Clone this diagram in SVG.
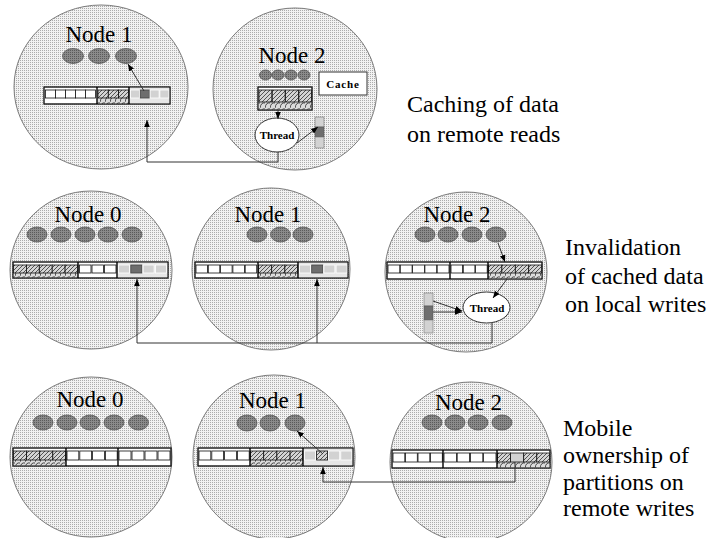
<svg xmlns="http://www.w3.org/2000/svg" width="709" height="538" viewBox="0 0 709 538">
<defs>
<pattern id="dots" width="2" height="2" patternUnits="userSpaceOnUse"><rect width="2" height="2" fill="#f2f2f2"/><rect width="1" height="1" fill="#acacac"/></pattern>
<pattern id="dk" width="2" height="2" patternUnits="userSpaceOnUse"><rect width="2" height="2" fill="#8a8a8a"/><rect width="1" height="1" fill="#5a5a5a"/></pattern>
<pattern id="hatch" width="4" height="4" patternUnits="userSpaceOnUse"><rect width="4" height="4" fill="#d4d4d4"/><path d="M-1,1 L1,-1 M0,4 L4,0 M3,5 L5,3" stroke="#333" stroke-width="0.8"/></pattern>
<pattern id="scal" width="5" height="6" patternUnits="userSpaceOnUse"><rect width="5" height="6" fill="#dcdcdc"/><path d="M0,6 Q1,0 5,1" fill="none" stroke="#222" stroke-width="0.8"/></pattern>
<marker id="ah" viewBox="0 0 10 10" refX="10" refY="5" markerWidth="7" markerHeight="7" orient="auto" markerUnits="userSpaceOnUse"><path d="M0,1 L10,5 L0,9 z" fill="#000"/></marker>
</defs>
<style>
.circ{fill:url(#dots);stroke:#7a7a7a;stroke-width:1}
.ov{fill:url(#dk);stroke:#555;stroke-width:0.8}
text{font-family:'Liberation Serif','Tinos','DejaVu Serif',serif}
.lbl{font-size:23px;fill:#000;text-anchor:middle}
.cap{font-size:24px;fill:#000}
.sm{font-size:11px;font-weight:bold;fill:#000;text-anchor:middle}
.bar{fill:#fff;stroke:#222;stroke-width:1}
.wc{fill:#fff;stroke:#111;stroke-width:0.8}
.lb{fill:#e6e6e6;stroke:none}
.lc{fill:#d2d2d2;stroke:#fff;stroke-width:0.8}
.dc{fill:#6e6e6e;stroke:#444;stroke-width:0.8}
.hc{fill:url(#hatch);stroke:#111;stroke-width:0.8}
.sc{fill:url(#scal);stroke:none}
.sep{stroke:#000;stroke-width:1.4}
.box{fill:#fff;stroke:#333;stroke-width:1}
.con{fill:none;stroke:#333;stroke-width:1}
</style>

<!-- TOP ROW -->
<g id="top-node1">
<ellipse class="circ" cx="101" cy="87" rx="87" ry="82"/>
<text class="lbl" x="99" y="42" font-family="Liberation Serif, serif">Node 1</text>
<ellipse class="ov" cx="73" cy="56" rx="10.5" ry="7.5"/>
<ellipse class="ov" cx="99" cy="56" rx="10.5" ry="7.5"/>
<ellipse class="ov" cx="126" cy="56" rx="10.5" ry="7.5"/>
<rect class="bar" x="44" y="87" width="126" height="17"/>
<rect class="wc" x="45.5" y="90" width="10" height="8"/><rect class="wc" x="55.5" y="90" width="10" height="8"/><rect class="wc" x="65.5" y="90" width="10" height="8"/><rect class="wc" x="75.5" y="90" width="10" height="8"/><rect class="wc" x="85.5" y="90" width="10" height="8"/>
<rect class="sc" x="97" y="98" width="32" height="6"/>
<rect class="hc" x="98" y="90" width="10.3" height="8"/><rect class="hc" x="108.3" y="90" width="10.3" height="8"/><rect class="hc" x="118.6" y="90" width="10.3" height="8"/>
<rect class="lb" x="129.5" y="87.5" width="40" height="16"/>
<rect class="lc" x="130.5" y="90" width="9" height="8"/><rect class="dc" x="140.3" y="90" width="9" height="8"/><rect class="lc" x="150.1" y="90" width="9" height="8"/><rect class="lc" x="159.9" y="90" width="9" height="8"/>
<rect x="44" y="87" width="126" height="17" fill="none" stroke="#222"/>
<line class="sep" x1="97" y1="87" x2="97" y2="104"/><line class="sep" x1="129" y1="87" x2="129" y2="104"/>
</g>

<g id="top-node2">
<ellipse class="circ" cx="295" cy="89" rx="82" ry="81"/>
<text class="lbl" x="292" y="63">Node 2</text>
<ellipse class="ov" cx="265.5" cy="75" rx="6" ry="5"/>
<ellipse class="ov" cx="278" cy="75" rx="6" ry="5"/>
<ellipse class="ov" cx="291" cy="75" rx="6" ry="5"/>
<ellipse class="ov" cx="304" cy="75" rx="6" ry="5"/>
<g id="top-cache"><rect class="box" x="319" y="72" width="48" height="23"/><text class="sm" x="343" y="87.5" letter-spacing="0.8">Cache</text></g>
<rect class="bar" x="258" y="87" width="54" height="23"/>
<rect class="sc" x="258.5" y="102" width="53" height="7.5"/>
<rect class="hc" x="259" y="90" width="12.8" height="12"/><rect class="hc" x="272.3" y="90" width="12.8" height="12"/><rect class="hc" x="285.6" y="90" width="12.8" height="12"/><rect class="hc" x="298.9" y="90" width="12.6" height="12"/>
<rect x="258" y="87" width="54" height="23" fill="none" stroke="#222"/>
<g id="top-thread"><ellipse class="box" cx="277" cy="135" rx="22" ry="17"/><text class="sm" x="277" y="139">Thread</text></g>
<rect x="315" y="117" width="9" height="10" fill="#d2d2d2" stroke="#777" stroke-width="0.6"/>
<rect x="315" y="127" width="9" height="10" fill="#6e6e6e" stroke="#555" stroke-width="0.6"/>
<rect x="315" y="137" width="9" height="11" fill="#d2d2d2" stroke="#777" stroke-width="0.6"/>
</g>

<!-- MIDDLE ROW -->
<g id="mid-node0">
<ellipse class="circ" cx="91" cy="270" rx="81" ry="79"/>
<text class="lbl" x="88" y="222">Node 0</text>
<ellipse class="ov" cx="37" cy="234.5" rx="10" ry="7.5"/>
<ellipse class="ov" cx="61" cy="234.5" rx="10" ry="7.5"/>
<ellipse class="ov" cx="85" cy="234.5" rx="10" ry="7.5"/>
<ellipse class="ov" cx="108" cy="234.5" rx="10" ry="7.5"/>
<ellipse class="ov" cx="132" cy="234.5" rx="10" ry="7.5"/>
<rect class="bar" x="13" y="262" width="155" height="16"/>
<rect class="sc" x="13.5" y="273" width="64.5" height="4.5"/>
<rect class="hc" x="13.5" y="265" width="12.9" height="8"/><rect class="hc" x="26.4" y="265" width="12.9" height="8"/><rect class="hc" x="39.3" y="265" width="12.9" height="8"/><rect class="hc" x="52.2" y="265" width="12.9" height="8"/><rect class="hc" x="65.1" y="265" width="12.9" height="8"/>
<rect class="wc" x="79.5" y="265" width="11.5" height="8"/><rect class="wc" x="92" y="265" width="11.5" height="8"/><rect class="wc" x="104.5" y="265" width="11.5" height="8"/>
<rect class="lb" x="117.5" y="262.5" width="50" height="15"/>
<rect class="lc" x="118.5" y="265" width="11" height="8"/><rect class="dc" x="130.8" y="265" width="11" height="8"/><rect class="lc" x="143.1" y="265" width="11" height="8"/><rect class="lc" x="155.4" y="265" width="11" height="8"/>
<rect x="13" y="262" width="155" height="16" fill="none" stroke="#222"/>
<line class="sep" x1="78" y1="262" x2="78" y2="278"/><line class="sep" x1="117" y1="262" x2="117" y2="278"/>
</g>

<g id="mid-node1">
<ellipse class="circ" cx="271" cy="269" rx="79" ry="81"/>
<text class="lbl" x="268" y="222">Node 1</text>
<ellipse class="ov" cx="257" cy="234.5" rx="10" ry="7.5"/>
<ellipse class="ov" cx="280.5" cy="234.5" rx="10" ry="7.5"/>
<ellipse class="ov" cx="303" cy="234.5" rx="10" ry="7.5"/>
<rect class="bar" x="195" y="262" width="153" height="16"/>
<rect class="wc" x="196" y="265" width="11.5" height="8"/><rect class="wc" x="208.3" y="265" width="11.5" height="8"/><rect class="wc" x="220.6" y="265" width="11.5" height="8"/><rect class="wc" x="232.9" y="265" width="11.5" height="8"/><rect class="wc" x="245.2" y="265" width="11.5" height="8"/>
<rect class="sc" x="258" y="273" width="40" height="4.5"/>
<rect class="hc" x="258.5" y="265" width="13.2" height="8"/><rect class="hc" x="271.7" y="265" width="13.2" height="8"/><rect class="hc" x="284.9" y="265" width="13" height="8"/>
<rect class="lb" x="298.5" y="262.5" width="49" height="15"/>
<rect class="lc" x="299.5" y="265" width="11" height="8"/><rect class="dc" x="311.7" y="265" width="11" height="8"/><rect class="lc" x="323.9" y="265" width="11" height="8"/><rect class="lc" x="336.1" y="265" width="11" height="8"/>
<rect x="195" y="262" width="153" height="16" fill="none" stroke="#222"/>
<line class="sep" x1="258" y1="262" x2="258" y2="278"/><line class="sep" x1="298" y1="262" x2="298" y2="278"/>
</g>

<g id="mid-node2">
<ellipse class="circ" cx="466" cy="272" rx="81" ry="80"/>
<text class="lbl" x="457" y="222">Node 2</text>
<ellipse class="ov" cx="425" cy="234.5" rx="10" ry="7.5"/>
<ellipse class="ov" cx="448" cy="234.5" rx="10" ry="7.5"/>
<ellipse class="ov" cx="472" cy="234.5" rx="10" ry="7.5"/>
<ellipse class="ov" cx="496" cy="234.5" rx="10" ry="7.5"/>
<rect class="bar" x="387" y="262" width="155" height="17"/>
<rect class="wc" x="388" y="265" width="11.8" height="8"/><rect class="wc" x="400.3" y="265" width="11.8" height="8"/><rect class="wc" x="412.6" y="265" width="11.8" height="8"/><rect class="wc" x="424.9" y="265" width="11.8" height="8"/><rect class="wc" x="437.2" y="265" width="11.8" height="8"/>
<rect class="wc" x="451" y="265" width="11.6" height="8"/><rect class="wc" x="463.3" y="265" width="11.6" height="8"/><rect class="wc" x="475.6" y="265" width="11.6" height="8"/>
<rect class="sc" x="488" y="273" width="54" height="5.5"/>
<rect class="hc" x="488.5" y="265" width="13.4" height="8"/><rect class="hc" x="501.9" y="265" width="13.4" height="8"/><rect class="hc" x="515.3" y="265" width="13.4" height="8"/><rect class="hc" x="528.7" y="265" width="13" height="8"/>
<rect x="387" y="262" width="155" height="17" fill="none" stroke="#222"/>
<line class="sep" x1="450" y1="262" x2="450" y2="279"/><line class="sep" x1="488" y1="262" x2="488" y2="279"/>
<g id="mid-thread"><ellipse class="box" cx="486.5" cy="307.5" rx="23.5" ry="15.5"/><text class="sm" x="487" y="311.5">Thread</text></g>
<rect x="424" y="293" width="9" height="13" fill="#d2d2d2" stroke="#777" stroke-width="0.6"/>
<rect x="424" y="306" width="9" height="14" fill="#6e6e6e" stroke="#555" stroke-width="0.6"/>
<rect x="424" y="320" width="9" height="13" fill="#d2d2d2" stroke="#777" stroke-width="0.6"/>
</g>

<!-- BOTTOM ROW -->
<g id="bot-node0">
<ellipse class="circ" cx="91" cy="457" rx="81" ry="80"/>
<text class="lbl" x="90" y="407">Node 0</text>
<ellipse class="ov" cx="43" cy="422.5" rx="10" ry="7.5"/>
<ellipse class="ov" cx="67" cy="422.5" rx="10" ry="7.5"/>
<ellipse class="ov" cx="90" cy="422.5" rx="10" ry="7.5"/>
<ellipse class="ov" cx="114" cy="422.5" rx="10" ry="7.5"/>
<ellipse class="ov" cx="138.5" cy="422.5" rx="10" ry="7.5"/>
<rect class="bar" x="13" y="448" width="158" height="18"/>
<rect class="sc" x="13.5" y="460" width="52.5" height="5.5"/>
<rect class="hc" x="13.5" y="451" width="13.1" height="9"/><rect class="hc" x="26.6" y="451" width="13.1" height="9"/><rect class="hc" x="39.7" y="451" width="13.1" height="9"/><rect class="hc" x="52.8" y="451" width="13" height="9"/>
<rect class="wc" x="67" y="451" width="11.8" height="9"/><rect class="wc" x="79.8" y="451" width="11.8" height="9"/><rect class="wc" x="92.6" y="451" width="11.8" height="9"/><rect class="wc" x="105.4" y="451" width="11.8" height="9"/>
<rect class="wc" x="119" y="451" width="12" height="9"/><rect class="wc" x="132" y="451" width="12" height="9"/><rect class="wc" x="145" y="451" width="12" height="9"/><rect class="wc" x="158" y="451" width="12" height="9"/>
<rect x="13" y="448" width="158" height="18" fill="none" stroke="#222"/>
<line class="sep" x1="66" y1="448" x2="66" y2="466"/><line class="sep" x1="118" y1="448" x2="118" y2="466"/>
</g>

<g id="bot-node1">
<ellipse class="circ" cx="274" cy="457" rx="81" ry="82"/>
<text class="lbl" x="272.5" y="408">Node 1</text>
<ellipse class="ov" cx="247" cy="423" rx="10" ry="8"/>
<ellipse class="ov" cx="270" cy="423" rx="10" ry="8"/>
<ellipse class="ov" cx="295" cy="423" rx="10" ry="8"/>
<rect class="bar" x="198" y="448" width="155" height="18"/>
<rect class="wc" x="199" y="451" width="11.8" height="9"/><rect class="wc" x="211.8" y="451" width="11.8" height="9"/><rect class="wc" x="224.6" y="451" width="11.8" height="9"/><rect class="wc" x="237.4" y="451" width="11.8" height="9"/>
<rect class="sc" x="250" y="460" width="53" height="5.5"/>
<rect class="hc" x="250.5" y="451" width="13.2" height="9"/><rect class="hc" x="263.7" y="451" width="13.2" height="9"/><rect class="hc" x="276.9" y="451" width="13.2" height="9"/><rect class="hc" x="290.1" y="451" width="12.7" height="9"/>
<rect class="lb" x="303.5" y="448.5" width="49" height="17"/>
<rect class="lc" x="304.5" y="451" width="11" height="9"/><rect class="hc" x="316.6" y="451" width="11" height="9"/><rect class="lc" x="328.7" y="451" width="11" height="9"/><rect class="lc" x="340.8" y="451" width="11" height="9"/>
<rect x="198" y="448" width="155" height="18" fill="none" stroke="#222"/>
<line class="sep" x1="250" y1="448" x2="250" y2="466"/><line class="sep" x1="303" y1="448" x2="303" y2="466"/>
</g>

<g id="bot-node2">
<ellipse class="circ" cx="471" cy="462" rx="81" ry="80"/>
<text class="lbl" x="468.5" y="410">Node 2</text>
<ellipse class="ov" cx="432" cy="422.5" rx="10" ry="7.5"/>
<ellipse class="ov" cx="455" cy="422.5" rx="10" ry="7.5"/>
<ellipse class="ov" cx="478" cy="422.5" rx="10" ry="7.5"/>
<ellipse class="ov" cx="502" cy="422.5" rx="10" ry="7.5"/>
<rect class="bar" x="392" y="450" width="158" height="18"/>
<rect class="wc" x="393" y="453" width="11.8" height="9"/><rect class="wc" x="405.5" y="453" width="11.8" height="9"/><rect class="wc" x="418" y="453" width="11.8" height="9"/><rect class="wc" x="430.5" y="453" width="11.8" height="9"/>
<rect class="wc" x="444" y="453" width="12.4" height="9"/><rect class="wc" x="457.2" y="453" width="12.4" height="9"/><rect class="wc" x="470.4" y="453" width="12.4" height="9"/><rect class="wc" x="483.6" y="453" width="12.4" height="9"/>
<rect class="sc" x="497" y="462" width="53" height="5.5"/>
<rect class="hc" x="497.5" y="453" width="13.1" height="9"/><rect x="510.6" y="453" width="13.1" height="9" fill="#d2d2d2" stroke="#111" stroke-width="0.8"/><rect class="hc" x="523.7" y="453" width="13.1" height="9"/><rect class="hc" x="536.8" y="453" width="12.7" height="9"/>
<rect x="392" y="450" width="158" height="18" fill="none" stroke="#222"/>
<line class="sep" x1="443" y1="450" x2="443" y2="468"/><line class="sep" x1="497" y1="450" x2="497" y2="468"/>
</g>

<!-- CONNECTORS -->
<g id="connectors">
<line class="con" x1="144" y1="91" x2="128" y2="64" marker-end="url(#ah)"/>
<polyline class="con" points="278,152 278,162 147,162 147,120" marker-end="url(#ah)"/>
<line class="con" x1="278" y1="110" x2="278" y2="119" marker-end="url(#ah)"/>
<line class="con" x1="297" y1="143" x2="318" y2="127" marker-end="url(#ah)"/>

<line class="con" x1="498" y1="243" x2="505" y2="262" marker-end="url(#ah)"/>
<line class="con" x1="507" y1="279" x2="493" y2="298" marker-end="url(#ah)"/>
<line class="con" x1="433" y1="301" x2="462" y2="311" marker-end="url(#ah)"/>
<line class="con" x1="433" y1="312" x2="462" y2="312" marker-end="url(#ah)"/>
<polyline class="con" points="492,323 492,343 137,343 137,279" marker-end="url(#ah)"/>
<line class="con" x1="317" y1="343" x2="317" y2="279" marker-end="url(#ah)"/>

<line class="con" x1="323" y1="454" x2="297" y2="431" marker-end="url(#ah)"/>
<polyline class="con" points="515,462 515,482 323,482 323,467" marker-end="url(#ah)"/>
</g>

<!-- CAPTIONS -->
<text class="cap" x="407" y="112">Caching of data</text>
<text class="cap" x="407" y="142">on remote reads</text>
<text class="cap" x="565" y="255">Invalidation</text>
<text class="cap" x="565" y="283.5">of cached data</text>
<text class="cap" x="565" y="312">on local writes</text>
<text class="cap" x="563" y="436">Mobile</text>
<text class="cap" x="563" y="463">ownership of</text>
<text class="cap" x="563" y="490">partitions on</text>
<text class="cap" x="563" y="516">remote writes</text>
</svg>
